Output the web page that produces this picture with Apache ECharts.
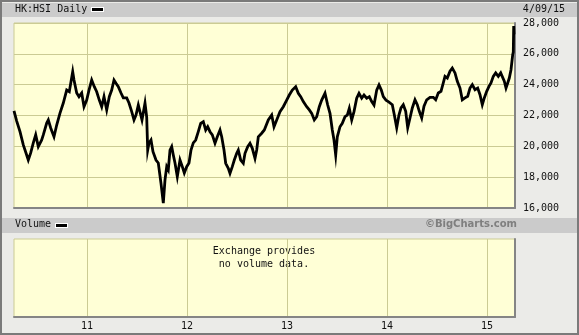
<!DOCTYPE html>
<html><head><meta charset="utf-8">
<script src="https://cdn.jsdelivr.net/npm/echarts/dist/echarts.min.js"></script>
<style>html,body{margin:0;padding:0;background:#EBEBE8}#c{width:579px;height:335px}</style>
</head><body><div id="c"></div><script>
// decimal-year time stamps of sampled closes (HK:HSI daily, Apr 2010 - Apr 2015)
const years = [
2010.27,2010.285,2010.297,2010.33,2010.363,2010.39,2010.413,2010.437,2010.463,2010.487,
2010.513,2010.547,2010.563,2010.597,2010.613,2010.637,2010.67,2010.697,2010.73,2010.763,
2010.797,2010.823,2010.84,2010.857,2010.87,2010.897,2010.92,2010.947,2010.97,2010.997,
2011.02,2011.047,2011.073,2011.097,2011.123,2011.147,2011.17,2011.197,2011.223,2011.247,
2011.27,2011.29,2011.313,2011.34,2011.363,2011.397,2011.42,2011.447,2011.47,2011.49,
2011.513,2011.53,2011.55,2011.58,2011.597,2011.607,2011.62,2011.64,2011.66,2011.69,
2011.713,2011.74,2011.763,2011.78,2011.797,2011.813,2011.83,2011.847,2011.863,2011.88,
2011.903,2011.93,2011.953,2011.973,2011.997,2012.02,2012.04,2012.063,2012.087,2012.113,
2012.137,2012.163,2012.187,2012.207,2012.23,2012.253,2012.28,2012.303,2012.33,2012.347,
2012.37,2012.387,2012.413,2012.43,2012.453,2012.473,2012.497,2012.513,2012.537,2012.563,
2012.58,2012.607,2012.63,2012.653,2012.68,2012.697,2012.713,2012.747,2012.773,2012.813,
2012.847,2012.87,2012.897,2012.93,2012.963,2012.997,2013.023,2013.053,2013.087,2013.113,
2013.137,2013.163,2013.197,2013.223,2013.247,2013.273,2013.297,2013.323,2013.347,2013.38,
2013.407,2013.43,2013.453,2013.47,2013.487,2013.503,2013.53,2013.553,2013.58,2013.603,
2013.623,2013.647,2013.67,2013.697,2013.72,2013.747,2013.77,2013.797,2013.823,2013.847,
2013.87,2013.897,2013.92,2013.943,2013.963,2013.99,2014.013,2014.03,2014.053,2014.073,
2014.097,2014.12,2014.14,2014.163,2014.187,2014.207,2014.23,2014.253,2014.28,2014.303,
2014.323,2014.347,2014.37,2014.397,2014.43,2014.463,2014.487,2014.513,2014.54,2014.563,
2014.58,2014.603,2014.63,2014.653,2014.68,2014.703,2014.73,2014.753,2014.78,2014.807,
2014.83,2014.853,2014.88,2014.907,2014.93,2014.953,2014.973,2014.997,2015.02,2015.04,
2015.063,2015.087,2015.113,2015.137,2015.153,2015.173,2015.19,2015.207,2015.223,2015.24,
2015.257,2015.263,2015.267,2015.27
];
const closes = [
22300,22360,21640,20950,20090,19570,19110,19570,20220,20740,
19980,20410,20740,21510,21710,21190,20620,21380,22160,22810,
23650,23540,23460,24840,24300,23460,23220,23460,22570,23000,
23650,24300,23870,23540,23000,22570,23220,22360,23220,23650,
24300,24090,23870,23460,23140,23140,22810,22250,21710,22030,
22680,22230,21710,22810,21900,19760,20220,20410,19650,19110,
18920,17600,16320,17820,18680,18470,19760,19980,19440,18920,
18030,19110,18680,18270,18680,18920,19760,20220,20410,20950,
21490,21600,21060,21270,20950,20740,20200,20620,21060,20620,
19760,18900,18580,18250,18680,19110,19550,19760,19110,18900,
19550,19980,20200,19870,19220,19760,20620,20850,21060,21710,
22030,21270,21710,22250,22570,23000,23330,23650,23870,23440,
23220,22900,22570,22360,22140,21710,21920,22570,23000,23440,
22680,22140,21060,20410,19440,20620,21270,21490,21920,22030,
22470,21710,22250,23120,23440,23120,23330,23120,23220,22900,
22680,23650,23980,23650,23220,23000,22900,22810,22700,22050,
21200,22050,22490,22700,22270,21200,21840,22490,23020,22700,
22270,21840,22600,23020,23180,23180,23020,23460,23570,24110,
24540,24430,24870,25080,24760,24220,23780,23020,23140,23250,
23780,24000,23670,23780,23350,22700,23140,23570,23890,24110,
24540,24760,24540,24760,24870,24220,23780,24110,24430,24970,
25940,26120,27800,27270
];
const yTicks = [16000,18000,20000,22000,24000,26000,28000];
const xYears = [2011,2012,2013,2014,2015];

const MONO = 'DejaVu Sans Mono';
const chart = echarts.init(document.getElementById('c'), null, {renderer:'canvas'});
const gridCol = '#cbcb94';
const bgCol = '#FFFFD6';
const xCommon = {
  type:'value', min:2010.27, max:2015.28,
  axisTick:{show:false, customValues:xYears},
  splitLine:{show:true, lineStyle:{color:gridCol, width:1}},
  axisLine:{show:true, lineStyle:{color:'#858585', width:2}}
};
chart.setOption({
  animation:false,
  backgroundColor:'#EBEBE8',
  grid:[
    {left:14, width:501, top:23, height:185, show:true, backgroundColor:bgCol, borderColor:gridCol, borderWidth:1, outerBoundsMode:'none'},
    {left:14, width:501, top:239, height:78, show:true, backgroundColor:bgCol, borderColor:gridCol, borderWidth:1, outerBoundsMode:'none'}
  ],
  xAxis:[
    Object.assign({gridIndex:0, axisLabel:{show:false, customValues:xYears}}, xCommon),
    Object.assign({gridIndex:1, axisLabel:{show:true, customValues:xYears, margin:4, color:'#111', fontFamily:MONO, fontSize:10,
      formatter:v=>String(Math.round(v)).slice(2)}}, xCommon)
  ],
  yAxis:[
    {gridIndex:0, type:'value', position:'right', min:16000, max:28000, interval:2000,
     axisLine:{show:true, lineStyle:{color:'#858585', width:2}}, axisTick:{show:false},
     splitLine:{show:true, lineStyle:{color:gridCol, width:1}},
     axisLabel:{margin:8, color:'#111', fontFamily:MONO, fontSize:10,
       formatter:v=>v.toLocaleString('en-US')}},
    {gridIndex:1, type:'value', position:'right', min:0, max:1,
     axisLine:{show:true, lineStyle:{color:'#858585', width:2}}, axisTick:{show:false},
     splitLine:{show:false}, axisLabel:{show:false}}
  ],
  series:[{
    type:'line', xAxisIndex:0, yAxisIndex:0, silent:true,
    data: years.map((t,i)=>[t, closes[i]]),
    showSymbol:false, lineStyle:{color:'#000', width:2.8, join:'miter'}
  }],
  graphic:[
    {type:'rect', shape:{x:1,y:1,width:577,height:333}, style:{fill:'none', stroke:'#7a7a7a', lineWidth:2}, z:100},
    {type:'rect', shape:{x:2,y:3,width:575,height:14}, style:{fill:'#CBCBCB'}},
    {type:'text', left:15, top:4, style:{text:'HK:HSI Daily', font:'10px "DejaVu Sans Mono"', fill:'#111'}},
    {type:'rect', shape:{x:91,y:7,width:13,height:5}, style:{fill:'#fff'}},
    {type:'rect', shape:{x:92,y:8,width:11,height:3}, style:{fill:'#000'}},
    {type:'text', right:14, top:4, style:{text:'4/09/15', font:'10px "DejaVu Sans Mono"', fill:'#111'}},
    {type:'rect', shape:{x:2,y:218,width:575,height:15}, style:{fill:'#CBCBCB'}},
    {type:'text', left:15, top:219, style:{text:'Volume', font:'10px "DejaVu Sans Mono"', fill:'#111'}},
    {type:'rect', shape:{x:55,y:223,width:13,height:5}, style:{fill:'#fff'}},
    {type:'rect', shape:{x:56,y:224,width:11,height:3}, style:{fill:'#000'}},
    {type:'text', right:62, top:219, style:{text:'\u00A9BigCharts.com', font:'bold 10px "DejaVu Sans"', fill:'#7f7f7f'}},
    {type:'text', x:264, y:245, style:{text:'Exchange provides\nno volume data.', font:'10px "DejaVu Sans Mono"', fill:'#111', align:'center', lineHeight:13}}
  ]
});
</script></body></html>
